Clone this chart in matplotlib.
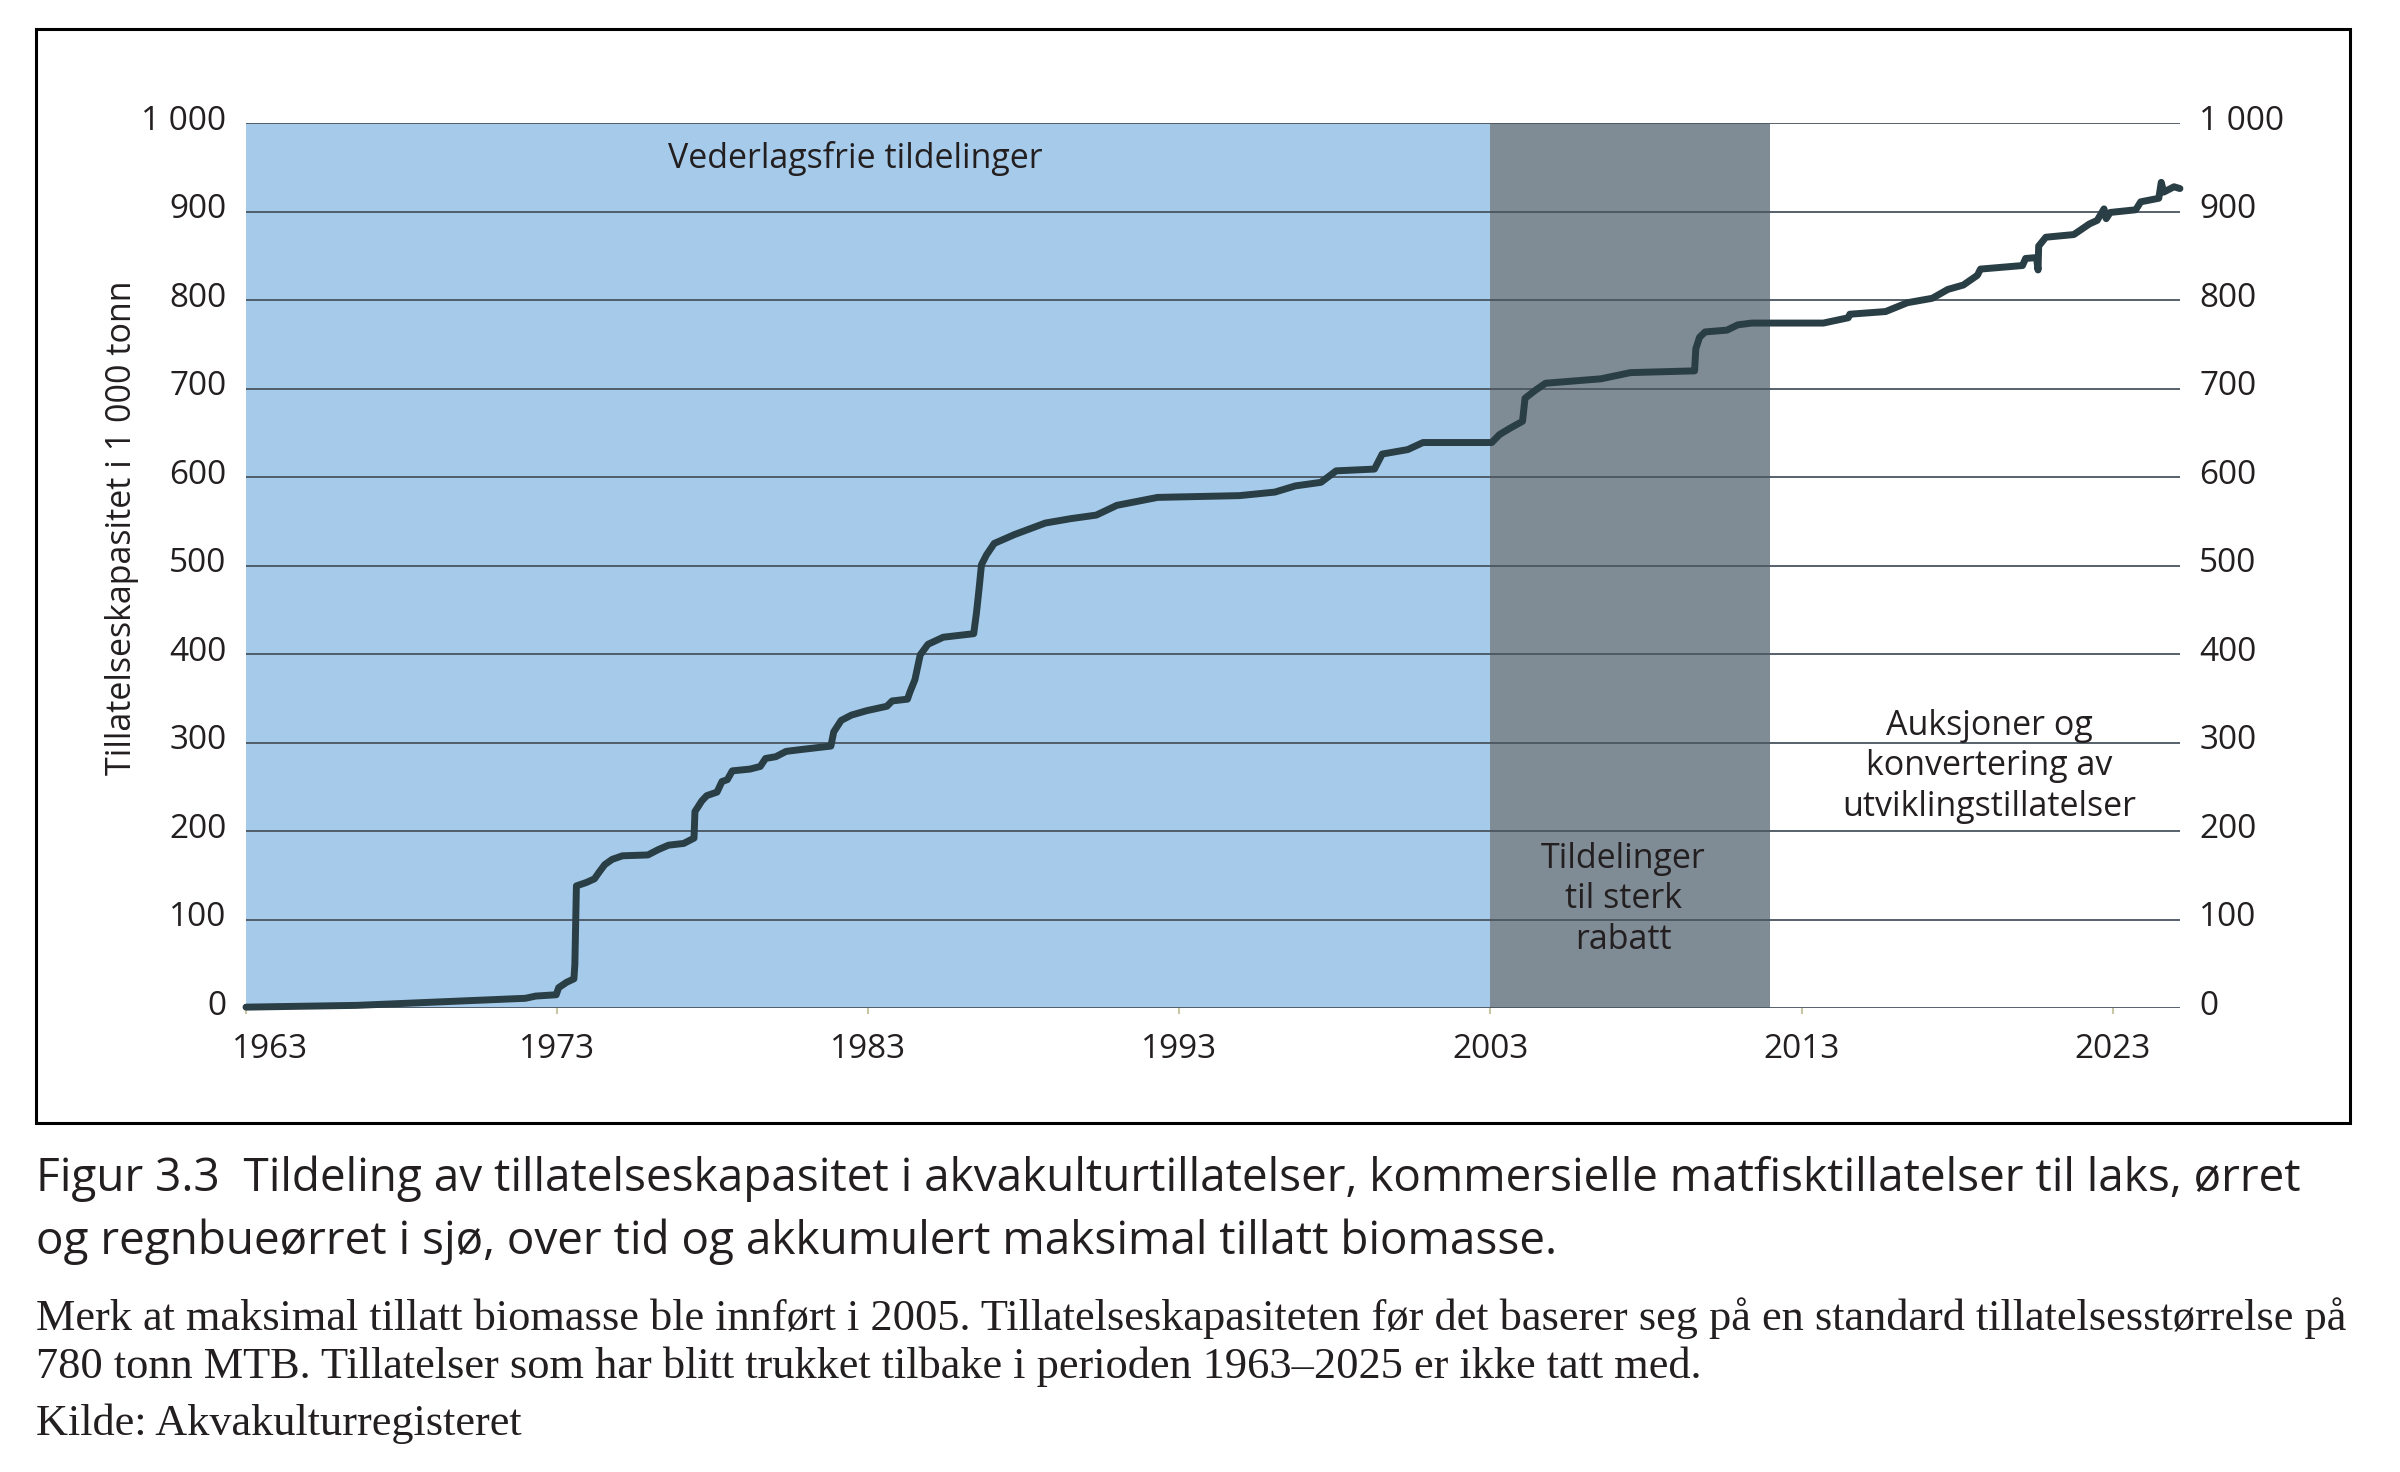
import matplotlib
matplotlib.use("Agg")
import matplotlib.pyplot as plt
from matplotlib.patches import Rectangle
from matplotlib.transforms import ScaledTranslation

# cumulative permitted capacity, 1000 tonnes
years = [1963.0, 1966.56, 1971.98, 1972.31, 1972.97, 1973.05, 1973.3, 1973.54, 1973.57, 1973.62,
         1973.95, 1974.2, 1974.36, 1974.53, 1974.77, 1975.1, 1975.92, 1976.25, 1976.58, 1977.07,
         1977.4, 1977.43, 1977.65, 1977.81, 1978.14, 1978.3, 1978.47, 1978.63, 1979.2, 1979.53,
         1979.7, 1980.03, 1980.36, 1980.82, 1981.8, 1981.89, 1982.13, 1982.46, 1982.95, 1983.6,
         1983.77, 1984.26, 1984.34, 1984.5, 1984.67, 1984.92, 1985.41, 1986.39, 1986.48, 1986.56,
         1986.64, 1986.8, 1987.05, 1987.7, 1988.69, 1989.51, 1990.33, 1990.99, 1992.3, 1994.93,
         1996.07, 1996.73, 1997.55, 1998.04, 1999.27, 1999.52, 2000.34, 2000.83, 2003.04, 2003.29,
         2003.62, 2004.03, 2004.11, 2004.44, 2004.77, 2006.55, 2007.5, 2009.56, 2009.6, 2009.72,
         2009.9, 2010.6, 2010.95, 2011.4, 2013.7, 2014.5, 2014.55, 2015.7, 2016.4, 2017.2,
         2017.7, 2018.2, 2018.65, 2018.75, 2020.1, 2020.2, 2020.55, 2020.6, 2020.62, 2020.85,
         2021.75, 2022.25, 2022.5, 2022.72, 2022.79, 2022.92, 2023.74, 2023.9, 2024.48, 2024.56,
         2024.64, 2024.97, 2025.16]
capacity = [1, 3, 11, 13.5, 15, 23, 29, 33, 49, 138,
            142, 146, 154, 162, 168, 172, 173, 179, 184, 186,
            192, 222, 234, 240, 244, 256, 258, 268, 270, 273,
            282, 284, 290, 292, 296, 312, 325, 331, 336, 341,
            347, 349, 357, 371, 399, 411, 419, 423, 447, 473,
            501, 512, 525, 535, 548, 553, 557, 568, 577, 579,
            583, 590, 594, 607, 609, 626, 631, 639, 639, 648,
            655, 663, 689, 698, 706, 711, 718, 720, 745, 758,
            764, 766, 772, 774, 774, 780, 784, 787, 797, 802,
            812, 817, 828, 835, 839, 847, 848, 834, 861, 871,
            874, 886, 890, 903, 892, 899, 902, 911, 915, 933,
            922, 928, 926]

# allocation regimes
free_period = (1963, 2003)
discount_period = (2003, 2012)

x_ticks = [1963, 1973, 1983, 1993, 2003, 2013, 2023]
y_ticks = [0, 100, 200, 300, 400, 500, 600, 700, 800, 900, 1000]
y_labels = ['0', '100', '200', '300', '400', '500', '600', '700', '800', '900', '1 000']

font = 'Open Sans'
serif = 'Liberation Serif'
txt = '#231f20'

fig = plt.figure(figsize=(24, 14.72), dpi=100)
ax = fig.add_axes([0.1025, 0.3152, 0.8058, 0.6012])

ax.axvspan(*free_period, color='#a6cbea', lw=0, zorder=0)
ax.axvspan(*discount_period, color='#7f8b95', lw=0, zorder=0)
for y in y_ticks:
    ax.axhline(y, color='#4a5560', lw=1.3, zorder=1)

ax.plot(years, capacity, color='#2a3e46', lw=5, solid_joinstyle='round',
        solid_capstyle='round', zorder=3, clip_on=False)

ax.set_xlim(1963, 2025.16)
ax.set_ylim(0, 1000)
for s in ax.spines.values():
    s.set_visible(False)

ax.set_xticks(x_ticks)
ax.set_xticklabels([str(x) for x in x_ticks], fontsize=24, family=font, color=txt)
ax.set_yticks(y_ticks)
ax.set_yticklabels(y_labels, fontsize=24, family=font, color=txt)
ax.tick_params(axis='x', length=4, width=1.5, color='#c9c6a6', pad=14)
ax.tick_params(axis='y', length=0, pad=14, labelright=True)
lift = ScaledTranslation(0, 0.06, fig.dpi_scale_trans)  # y labels sit slightly above their lines
for t in ax.yaxis.get_major_ticks():
    t.label2.set_family(font)
    t.label2.set_color(txt)
    t.label2.set_fontsize(24)
    t.label1.set_transform(t.label1.get_transform() + lift)
    t.label2.set_transform(t.label2.get_transform() + lift)
# first year label sits a bit right of its tick
first = ax.get_xticklabels()[0]
first.set_transform(first.get_transform() + ScaledTranslation(0.24, 0, fig.dpi_scale_trans))

fig.text(0.0508, 0.6413, 'Tillatelseskapasitet i 1 000 tonn', rotation=90, ha='center',
         va='center', fontsize=24.5, family=font, color=txt)

ax.text(1982.6, 949, 'Vederlagsfrie tildelinger', ha='center', va='baseline',
        fontsize=24.5, family=font, color=txt)
ax.text(2007.26, 67, 'Tildelinger\ntil sterk\nrabatt', ha='center', va='baseline',
        ma='center', linespacing=1.25, fontsize=24.5, family=font, color=txt)
ax.text(2019.03, 217, 'Auksjoner og\nkonvertering av\nutviklingstillatelser', ha='center',
        va='baseline', ma='center', linespacing=1.25, fontsize=24.5, family=font, color=txt)

fig.patches.append(Rectangle((0.015, 0.237), 0.964, 0.743, transform=fig.transFigure,
                             fill=False, edgecolor='black', lw=2.2))

cap1 = fig.text(0.015, 0.1909, 'Figur 3.3  Tildeling av tillatelseskapasitet i akvakulturtillatelser, '
                'kommersielle matfisktillatelser til laks, ørret', fontsize=30, family=font,
                weight='medium', color=txt, va='baseline')
cap2 = fig.text(0.015, 0.1481, 'og regnbueørret i sjø, over tid og akkumulert maksimal tillatt biomasse.',
                fontsize=30, family=font, weight='medium', color=txt, va='baseline')

note1 = fig.text(0.015, 0.0965, 'Merk at maksimal tillatt biomasse ble innført i 2005. Tillatelseskapasiteten '
                 'før det baserer seg på en standard tillatelsesstørrelse på', fontsize=30, family=serif,
                 color=txt, va='baseline')
note2 = fig.text(0.015, 0.0639, '780 tonn MTB. Tillatelser som har blitt trukket tilbake i perioden '
                 '1963–2025 er ikke tatt med.', fontsize=30, family=serif, color=txt, va='baseline')
note3 = fig.text(0.015, 0.0251, 'Kilde: Akvakulturregisteret', fontsize=30, family=serif, color=txt,
                 va='baseline')

# size caption and note so their first lines span the same width as in the original
r = fig.canvas.get_renderer()
cap_size = 30 * 2261 / cap1.get_window_extent(r).width
note_size = 30 * 2314 / note1.get_window_extent(r).width
for t in (cap1, cap2):
    t.set_fontsize(cap_size)
for t in (note1, note2, note3):
    t.set_fontsize(note_size)

fig.savefig('out.png', dpi=100)
